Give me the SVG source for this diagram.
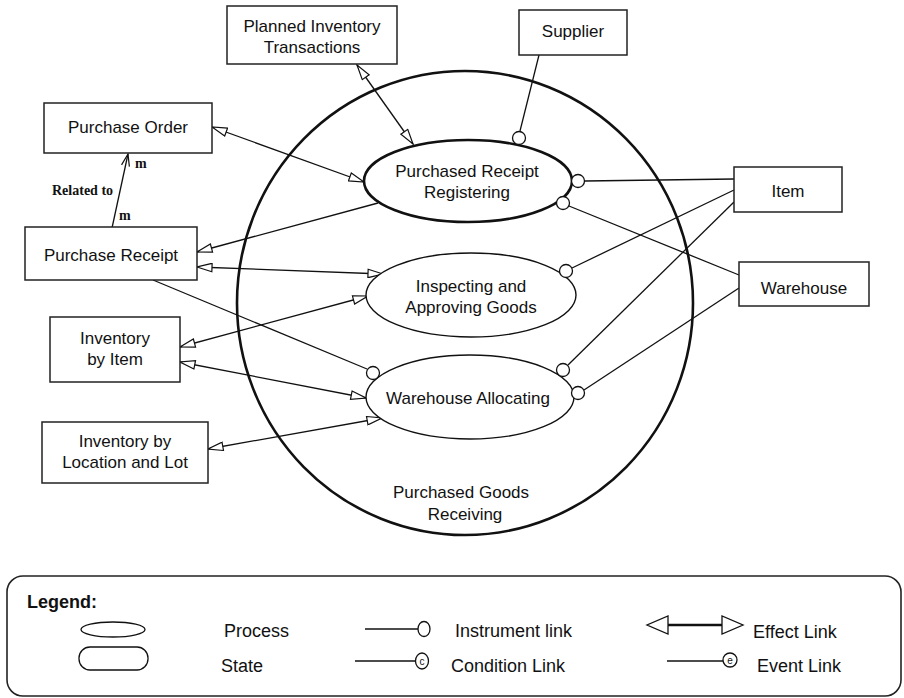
<svg xmlns="http://www.w3.org/2000/svg" width="904" height="698" viewBox="0 0 904 698">
<style>
.box{fill:#fff;stroke:#222;stroke-width:1.5}
.t{font-family:"Liberation Sans",Arial,sans-serif;font-size:17px;fill:#111;text-anchor:middle}
.lt{font-family:"Liberation Sans",Arial,sans-serif;font-size:18px;fill:#111}
.sr{font-family:"Liberation Serif","Times New Roman",serif;font-size:14px;font-weight:bold;fill:#111}
.ln{stroke:#111;stroke-width:1.3;fill:none}
.ins{fill:#fff;stroke:#111;stroke-width:1.3}
.eff{stroke:#111;stroke-width:1.3;fill:none;marker-start:url(#tri);marker-end:url(#tri)}
.res{stroke:#111;stroke-width:1.3;fill:none;marker-end:url(#tri)}
</style>
<defs>
<marker id="tri" viewBox="0 0 17 10" refX="16" refY="5" markerWidth="17" markerHeight="10" markerUnits="userSpaceOnUse" orient="auto-start-reverse">
<path d="M1,0.8 L16,5 L1,9.2 z" fill="#fff" stroke="#111" stroke-width="1.2"/>
</marker>
<marker id="chev" viewBox="0 0 14 10" refX="13" refY="5" markerWidth="14" markerHeight="10" markerUnits="userSpaceOnUse" orient="auto">
<path d="M1,1 L13,5 L1,9" fill="none" stroke="#111" stroke-width="1.2"/>
</marker>
</defs>
<rect width="904" height="698" fill="#fff"/>

<g id="purchased-goods-receiving">
<ellipse cx="465" cy="303" rx="228" ry="232" fill="none" stroke="#111" stroke-width="2.6"/>
<text class="t" x="461" y="498">Purchased Goods</text>
<text class="t" x="465" y="520">Receiving</text>
</g>

<g id="connectors">
<line class="eff" x1="357" y1="65" x2="413" y2="144"/>
<line class="eff" x1="212" y1="127" x2="364" y2="182"/>
<line class="res" x1="378" y1="203" x2="197" y2="252"/>
<line class="eff" x1="197" y1="267" x2="383" y2="274"/>
<line class="eff" x1="180" y1="347" x2="368" y2="296"/>
<line class="eff" x1="180" y1="362" x2="366" y2="398"/>
<line class="eff" x1="208" y1="449" x2="382" y2="418"/>
<line class="ln" x1="112" y1="228" x2="128" y2="154" marker-end="url(#chev)"/>
<line class="ln" x1="539" y1="55" x2="520" y2="131"/>
<line class="ln" x1="585" y1="181" x2="734" y2="179"/>
<line class="ln" x1="569" y1="206" x2="739" y2="275"/>
<line class="ln" x1="572" y1="268" x2="734" y2="190"/>
<line class="ln" x1="568" y1="365" x2="734" y2="202"/>
<line class="ln" x1="584" y1="390" x2="739" y2="288"/>
<line class="ln" x1="153" y1="280" x2="367" y2="369"/>
<text class="sr" x="52" y="195">Related to</text>
<text class="sr" x="135" y="168">m</text>
<text class="sr" x="119" y="220">m</text>
</g>

<g id="purchased-receipt-registering">
<ellipse cx="468" cy="181" rx="104" ry="41" fill="#fff" stroke="#111" stroke-width="2.6"/>
<text class="t" x="467" y="177">Purchased Receipt</text>
<text class="t" x="467" y="198">Registering</text>
</g>
<g id="inspecting-and-approving-goods">
<ellipse cx="471" cy="295" rx="105" ry="42" fill="#fff" stroke="#111" stroke-width="1.4"/>
<text class="t" x="471" y="292">Inspecting and</text>
<text class="t" x="471" y="313">Approving Goods</text>
</g>
<g id="warehouse-allocating">
<ellipse cx="470" cy="397" rx="104" ry="42" fill="#fff" stroke="#111" stroke-width="1.4"/>
<text class="t" x="468" y="404">Warehouse Allocating</text>
</g>

<g id="instrument-circles">
<circle class="ins" cx="519" cy="138" r="6.5"/>
<circle class="ins" cx="578" cy="181" r="6.5"/>
<circle class="ins" cx="563" cy="203" r="6.5"/>
<circle class="ins" cx="566" cy="271" r="6.5"/>
<circle class="ins" cx="563" cy="370" r="6.5"/>
<circle class="ins" cx="578" cy="393" r="6.5"/>
<circle class="ins" cx="373" cy="373" r="6.5"/>
</g>

<g id="planned-inventory-transactions">
<rect class="box" x="227" y="6" width="170" height="58"/>
<text class="t" x="312" y="32">Planned Inventory</text>
<text class="t" x="312" y="53">Transactions</text>
</g>
<g id="supplier">
<rect class="box" x="519" y="10" width="108" height="45"/>
<text class="t" x="573" y="37">Supplier</text>
</g>
<g id="purchase-order">
<rect class="box" x="44" y="103" width="168" height="50"/>
<text class="t" x="128" y="133">Purchase Order</text>
</g>
<g id="purchase-receipt">
<rect class="box" x="25" y="227" width="172" height="53"/>
<text class="t" x="111" y="261">Purchase Receipt</text>
</g>
<g id="inventory-by-item">
<rect class="box" x="50" y="317" width="130" height="65"/>
<text class="t" x="115" y="344">Inventory</text>
<text class="t" x="115" y="365">by Item</text>
</g>
<g id="inventory-by-location-and-lot">
<rect class="box" x="42" y="422" width="166" height="61"/>
<text class="t" x="125" y="447">Inventory by</text>
<text class="t" x="125" y="468">Location and Lot</text>
</g>
<g id="item">
<rect class="box" x="734" y="167" width="108" height="45"/>
<text class="t" x="788" y="197">Item</text>
</g>
<g id="warehouse">
<rect class="box" x="739" y="262" width="130" height="44"/>
<text class="t" x="804" y="294">Warehouse</text>
</g>

<g id="legend">
<rect x="7" y="576" width="894" height="120" rx="16" fill="none" stroke="#222" stroke-width="1.6"/>
<text x="27" y="608" font-family="'Liberation Sans',Arial,sans-serif" font-size="18" font-weight="bold" fill="#111">Legend:</text>
<ellipse cx="113" cy="629.5" rx="32" ry="7.5" fill="none" stroke="#111" stroke-width="1.3"/>
<rect x="79" y="647" width="69" height="23" rx="11" fill="none" stroke="#111" stroke-width="1.3"/>
<text class="lt" x="224" y="637">Process</text>
<text class="lt" x="221" y="672">State</text>
<line class="ln" x1="365" y1="629" x2="418" y2="629"/>
<ellipse cx="424" cy="629" rx="6" ry="7.5" fill="#fff" stroke="#111" stroke-width="1.3"/>
<text class="lt" x="455" y="637">Instrument link</text>
<line class="ln" x1="355" y1="661" x2="416" y2="661"/>
<ellipse cx="422" cy="661" rx="6.5" ry="8" fill="#fff" stroke="#111" stroke-width="1.3"/>
<text x="422" y="665" font-family="'Liberation Sans',Arial,sans-serif" font-size="10" text-anchor="middle" fill="#111">c</text>
<text class="lt" x="451" y="672">Condition Link</text>
<line x1="668" y1="625" x2="722" y2="625" stroke="#111" stroke-width="2.5"/>
<path d="M668,616 L668,634 L647,625 z" fill="#fff" stroke="#111" stroke-width="1.3"/>
<path d="M722,616 L722,634 L743,625 z" fill="#fff" stroke="#111" stroke-width="1.3"/>
<text class="lt" x="753" y="638">Effect Link</text>
<line class="ln" x1="667" y1="661" x2="723" y2="661"/>
<circle cx="730" cy="660" r="7" fill="#fff" stroke="#111" stroke-width="1.3"/>
<text x="730" y="664" font-family="'Liberation Sans',Arial,sans-serif" font-size="10" text-anchor="middle" fill="#111">e</text>
<text class="lt" x="757" y="672">Event Link</text>
</g>
</svg>
